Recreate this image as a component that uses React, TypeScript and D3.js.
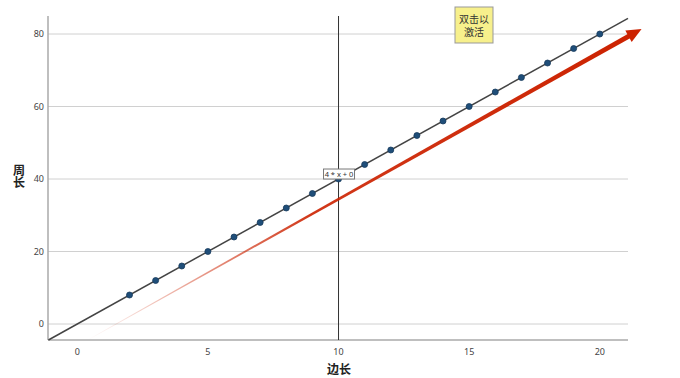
import React from "react";
import * as d3 from "d3";

const xTicks = [0, 5, 10, 15, 20];
const yTicks = [0, 20, 40, 60, 80];
const sides = [2, 3, 4, 5, 6, 7, 8, 9, 10, 11, 12, 13, 14, 15, 16, 17, 18, 19, 20];
const perimeters = [8, 12, 16, 20, 24, 28, 32, 36, 40, 44, 48, 52, 56, 60, 64, 68, 72, 76, 80];
const slope = 4;
const intercept = 0;
const markerX = 10;
const arrowStart = [0.4, -4.4];
const arrowEnd = [21.6, 81.4];
const formulaLabel = "4 * x + 0";
const noteLines = ["双击以", "激活"];
const xTitle = "边长";
const yTitle = "周长";

const W = 680, H = 378;
const L = 48, R = 628, T = 16, B = 340;

export default function App() {
  const x = d3.scaleLinear().domain([-1.12, 21.08]).range([L, R]);
  const y = d3.scaleLinear().domain([-4.41, 84.97]).range([B, T]);
  const xd = x.domain(), yd = y.domain();
  const fx = (v: number) => slope * v + intercept;
  const x0 = Math.max(xd[0], (yd[0] - intercept) / slope);
  const x1 = Math.min(xd[1], (yd[1] - intercept) / slope);
  const font = "'Noto Sans', 'Noto Sans CJK SC', sans-serif";

  const sx = x(arrowStart[0]), sy = y(arrowStart[1]);
  const ex = x(arrowEnd[0]), ey = y(arrowEnd[1]);
  const ang = Math.atan2(ey - sy, ex - sx);
  const len = Math.hypot(ex - sx, ey - sy);
  const headLen = 15, headW = 6.5;
  const bodyEnd = len - headLen + 2;
  const w0 = 0.3, w1 = 2.5;
  const wedge = `M0,${-w0} L${bodyEnd},${-w1} L${bodyEnd},${w1} L0,${w0} Z`;
  const head = `M${len - headLen},${-headW} L${len},0 L${len - headLen},${headW} Z`;

  const xm = x(markerX);
  const lblY = y(fx(markerX)) - 5;

  return (
    <svg width={W} height={H} style={{ position: "absolute", left: 0, top: 0, background: "#fff" }}>
      <defs>
        <linearGradient id="rg" gradientUnits="userSpaceOnUse" x1={0} y1={0} x2={len} y2={0}>
          <stop offset="0" stopColor="#cc2200" stopOpacity={0} />
          <stop offset="0.4" stopColor="#cc2200" stopOpacity={0.9} />
          <stop offset="1" stopColor="#cc2200" stopOpacity={1} />
        </linearGradient>
      </defs>
      {yTicks.map((t) => (
        <g key={t}>
          <line x1={L} x2={R} y1={y(t)} y2={y(t)} stroke="#d0d0d0" strokeWidth={1} />
          <text x={L - 4} y={y(t)} dy="0.35em" textAnchor="end" fontSize={9} fill="#444" fontFamily={font}>{t}</text>
        </g>
      ))}
      {xTicks.map((t) => (
        <text key={t} x={x(t)} y={B + 15} textAnchor="middle" fontSize={9} fill="#444" fontFamily={font}>{t}</text>
      ))}
      <line x1={L} x2={L} y1={T} y2={B} stroke="#aaa" strokeWidth={1.5} />
      <line x1={L} x2={R} y1={B} y2={B} stroke="#aaa" strokeWidth={1.5} />
      <line x1={xm} x2={xm} y1={T} y2={B} stroke="#333" strokeWidth={1} />
      <line x1={x(x0)} y1={y(fx(x0))} x2={x(x1)} y2={y(fx(x1))} stroke="#444" strokeWidth={1.5} />
      <g transform={`translate(${sx},${sy}) rotate(${(ang * 180) / Math.PI})`}>
        <path d={wedge} fill="url(#rg)" />
        <path d={head} fill="#cc2200" />
      </g>
      {sides.map((s, i) => (
        <circle key={s} cx={x(s)} cy={y(perimeters[i])} r={3} fill="#1f4e79" stroke="#163a5c" strokeWidth={0.8} />
      ))}
      <rect x={xm - 15} y={lblY - 5} width={31} height={10} fill="#fff" stroke="#777" strokeWidth={1} />
      <text x={xm + 0.5} y={lblY} dy="0.35em" textAnchor="middle" fontSize={7.5} fill="#333" fontFamily={font}>{formulaLabel}</text>
      <rect x={455} y={7} width={38} height={36} fill="#f7f08c" stroke="#999" strokeWidth={1} />
      {noteLines.map((s, i) => (
        <text key={i} x={474} y={23 + i * 13} textAnchor="middle" fontSize={10} fill="#333" fontFamily={font}>{s}</text>
      ))}
      <text x={(L + R) / 2 + 1} y={374} textAnchor="middle" fontSize={12} fontWeight="bold" fill="#222" fontFamily={font}>{xTitle}</text>
      <text x={18} y={164} style={{ writingMode: "vertical-rl" }} fontSize={12} fontWeight="bold" fill="#222" fontFamily={font}>{yTitle}</text>
    </svg>
  );
}
